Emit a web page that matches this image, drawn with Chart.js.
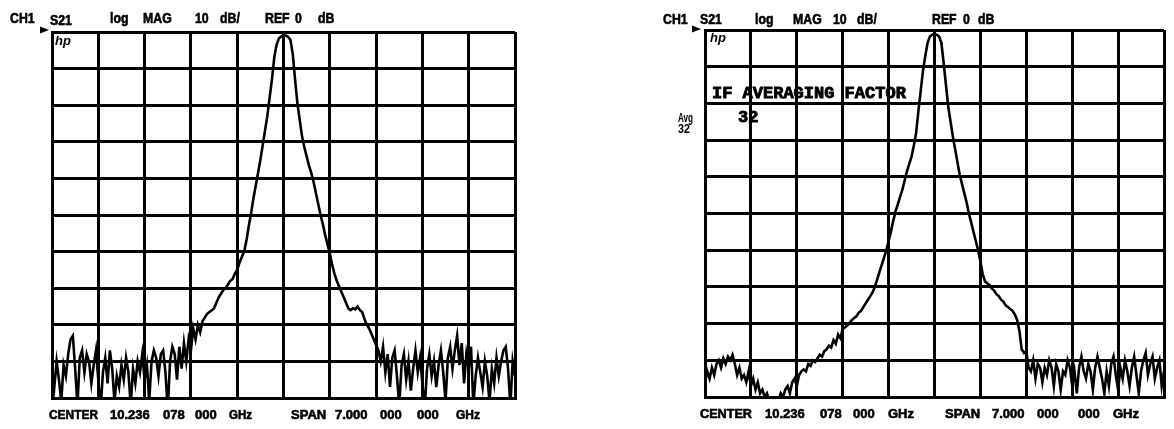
<!DOCTYPE html>
<html>
<head>
<meta charset="utf-8">
<script src="https://cdn.jsdelivr.net/npm/chart.js@4/dist/chart.umd.min.js"></script>
<style>
  html, body { margin: 0; padding: 0; background: #fff; }
  #wrap { position: relative; width: 1174px; height: 429px; overflow: hidden; }
  canvas { position: absolute; top: 0; }
  #left { left: 0; }
  #right { left: 587px; }
</style>
</head>
<body>
<div id="wrap">
  <canvas id="left" width="587" height="429"></canvas>
  <canvas id="right" width="587" height="429"></canvas>
</div>
<script>
// sweep: center 10.236 078 GHz, span 7 GHz, 201 points
const CENTER = 10.236078;
const SPAN = 7.0;
const START = CENTER - SPAN / 2;
const STEP = SPAN / 200;

// graticule, 10 divisions each way
const xTicks = [6.736078, 7.436078, 8.136078, 8.836078, 9.536078, 10.236078,
  10.936078, 11.636078, 12.336078, 13.036078, 13.736078];
const yTicks = [-100, -90, -80, -70, -60, -50, -40, -30, -20, -10, 0];

// S21 log MAG (dB), no averaging
const s21Plain = [
  -92, -97, -90, -95, -101, -91, -94, -88, -84, -83,
  -92, -102, -89, -87, -93, -88, -90, -96, -91, -87,
  -95, -103, -93, -89, -96, -87, -92, -101, -94, -97,
  -91, -95, -89, -93, -102, -92, -96, -90, -93, -88,
  -95, -91, -101, -90, -87, -89, -94, -88, -87, -93,
  -103, -90, -86, -88, -95, -86, -92, -85, -90, -84,
  -87,
  -81, -84, -80, -82, -79, -78, -77, -76.5, -76, -75.5,
  -74, -72.5, -71.5, -70.5, -70, -69, -68, -67.5, -66, -65,
  -63, -61.5, -60, -57, -53, -49.5, -45.5, -42, -38.5, -35,
  -31, -27, -23, -18, -13, -7, -3.5, -1.8, -1.2, -1.0,
  -1.0, -1.3, -2.2, -6, -13, -19.5, -24, -28.5, -31.5, -34,
  -36.5, -38.5, -41, -44, -47, -50, -52.5, -55.5, -58, -60.5,
  -63.5, -66, -68, -69.5, -71, -72.5, -74, -75.5, -76, -75.5,
  -75.8, -75, -76, -76.5, -78.5, -80, -81, -82.5, -84, -85.5,
  -87,
  -90, -86, -93, -88, -97, -89, -87, -94, -102, -91,
  -88, -95, -90, -98, -92, -87, -93, -89, -96, -103,
  -92, -88, -94, -90, -97, -91, -87, -93, -101, -89,
  -86, -92, -87, -83, -91, -85, -96, -88, -92, -86,
  -102, -94, -89, -93, -97, -90, -94, -101, -92, -96,
  -89, -94, -90, -87, -86, -92, -102, -90, -94
];

// S21 log MAG (dB), IF averaging factor 32
const s21Avg32 = [
  -96, -93, -95, -92, -94, -91, -90, -92, -89.5, -91,
  -89, -90, -88.5, -91, -94, -92, -95, -94, -96, -93,
  -97, -95, -98, -96, -99, -98, -100, -99, -101, -103,
  -104, -103, -101, -99, -100, -98, -97, -99,
  -96, -95, -97, -94, -93, -92.5, -93, -91, -91.5, -90,
  -90.5, -89.5, -88.5, -89, -87.5, -87, -86, -86.5, -84.5, -85.5,
  -83, -84, -81.5, -81, -80.5, -79.8, -79, -78.5, -78, -77,
  -76.5, -75.5, -74.5, -73.5, -72.5, -71.5, -70, -68, -66, -64,
  -62, -60, -57.5, -55, -52, -49.5, -47.5, -45.5, -43.5, -41,
  -38.5, -36.5, -34.5, -31.5, -28, -22, -16.5, -11, -7, -3.5,
  -1.8, -1.3, -1.2, -1.3, -1.8, -3.5, -9, -15, -21, -25,
  -29, -32.5, -36, -39.5, -42, -44.5, -47, -50, -52.5, -55,
  -57.5, -60, -63, -66.5, -68.5, -69, -69.5, -70.5, -71, -72,
  -72.5, -73.5, -74, -75, -75.5, -76, -76.5, -77.5, -79, -82,
  -87, -88, -87.5, -92,
  -93, -90, -95, -91, -92, -96, -92, -94, -90, -92,
  -97, -91, -93, -98, -93, -94, -90, -92, -97, -93,
  -99, -92, -89, -93, -95, -91, -93, -98, -92, -89,
  -92, -95, -99, -93, -97, -91, -89, -94, -98, -92,
  -95, -90, -93, -97, -92, -89, -94, -99, -93, -90,
  -88, -94, -91, -89, -95, -92, -90, -97, -93
];

const freqs = s21Plain.map((_, i) => START + i * STEP);

// annotation text of each screen: [text, x, baseline y]
const leftHeader = [
  ['CH1', 10, 23], ['S21', 50, 25], ['log', 110, 23], ['MAG', 143, 23],
  ['10', 195, 23], ['dB/', 220, 23], ['REF', 265, 23], ['0', 295, 23], ['dB', 318, 23]
];
const leftFooter = [
  ['CENTER', 49, 419, 49], ['10.236', 110, 419, 43], ['078', 163, 419, 22], ['000', 195, 419, 22],
  ['GHz', 229, 419, 23], ['SPAN', 291, 419, 36], ['7.000', 335, 419, 33], ['000', 380, 419, 23],
  ['000', 417, 419, 23], ['GHz', 456, 419, 24]
];
const rightHeader = [
  ['CH1', 76, 24], ['S21', 113, 24], ['log', 168, 24], ['MAG', 206, 24],
  ['10', 246, 24], ['dB/', 270, 24], ['REF', 345, 24], ['0', 376, 24], ['dB', 391, 24]
];
const rightFooter = [
  ['CENTER', 113, 418, 52], ['10.236', 178, 418, 45], ['078', 233, 418, 22], ['000', 266, 418, 25],
  ['GHz', 301, 418, 29], ['SPAN', 358, 418, 38], ['7.000', 405, 418, 35], ['000', 450, 418, 26],
  ['000', 491, 418, 25], ['GHz', 526, 418, 27]
];

const hpText = {
  id: 'hpText',
  afterDraw(chart, args, opts) {
    const ctx = chart.ctx;
    ctx.save();
    ctx.fillStyle = '#000';
    ctx.strokeStyle = '#000';
    ctx.textBaseline = 'alphabetic';
    // header: heavy, slightly condensed
    ctx.font = "bold 15px 'Liberation Sans', Arial, sans-serif";
    ctx.lineWidth = 0.6;
    opts.header.forEach(t => {
      ctx.save();
      ctx.translate(t[1], t[2]);
      ctx.scale(0.82, 1);
      ctx.fillText(t[0], 0, 0);
      ctx.strokeText(t[0], 0, 0);
      ctx.restore();
    });
    ctx.font = "bold 13px 'Liberation Sans', Arial, sans-serif";
    opts.footer.forEach(t => {
      ctx.fillText(t[0], t[1], t[2], t[3]);
      ctx.strokeText(t[0], t[1], t[2], t[3]);
    });
    ctx.font = "italic bold 13px 'Liberation Sans', Arial, sans-serif";
    ctx.fillText('hp', opts.hp[0], opts.hp[1], 16);
    (opts.extra || []).forEach(t => {
      ctx.font = t[4];
      ctx.lineWidth = t[5];
      ctx.fillText(t[0], t[1], t[2], t[3]);
      if (t[5]) ctx.strokeText(t[0], t[1], t[2], t[3]);
    });
    // reference position marker
    const m = opts.marker;
    ctx.beginPath();
    ctx.moveTo(m[0], m[1] - 3.5);
    ctx.lineTo(m[0] + 9, m[1]);
    ctx.lineTo(m[0], m[1] + 3.5);
    ctx.closePath();
    ctx.fill();
    ctx.restore();
  }
};

function makeScreen(id, values, pad, text) {
  return new Chart(document.getElementById(id), {
    type: 'line',
    data: {
      datasets: [{
        data: values.map((v, i) => ({ x: freqs[i], y: v })),
        borderColor: '#000',
        borderWidth: 2.6,
        pointRadius: 0,
        tension: 0,
        fill: false
      }]
    },
    options: {
      responsive: false,
      animation: false,
      events: [],
      layout: { padding: pad },
      plugins: { legend: { display: false }, tooltip: { enabled: false }, hpText: text },
      scales: {
        x: {
          type: 'linear',
          min: xTicks[0],
          max: xTicks[xTicks.length - 1],
          afterBuildTicks: s => { s.ticks = xTicks.map(v => ({ value: v })); },
          ticks: { display: false },
          grid: { color: '#000', lineWidth: 3, drawTicks: false },
          border: { color: '#000', width: 3 }
        },
        y: {
          min: yTicks[0],
          max: yTicks[yTicks.length - 1],
          afterBuildTicks: s => { s.ticks = yTicks.map(v => ({ value: v })); },
          ticks: { display: false },
          grid: { color: '#000', lineWidth: 3, drawTicks: false },
          border: { color: '#000', width: 3 }
        }
      }
    },
    plugins: [hpText]
  });
}

makeScreen('left', s21Plain, { left: 52, right: 72, top: 32, bottom: 31 }, {
  header: leftHeader, footer: leftFooter, hp: [55, 45], marker: [40, 30]
});

makeScreen('right', s21Avg32, { left: 118, right: 10, top: 30, bottom: 32 }, {
  header: rightHeader, footer: rightFooter, hp: [123, 42], marker: [105, 29],
  extra: [
    ['IF AVERAGING FACTOR', 125, 98, 196, "bold 17px 'Liberation Mono', monospace", 0.9],
    ['32', 151, 122, 22, "bold 17px 'Liberation Mono', monospace", 0.9],
    ['Avg', 91, 122, 15, "bold 12px 'Liberation Sans', Arial, sans-serif", 0],
    ['32', 91, 133, 12, "bold 12px 'Liberation Sans', Arial, sans-serif", 0]
  ]
});
</script>
</body>
</html>
